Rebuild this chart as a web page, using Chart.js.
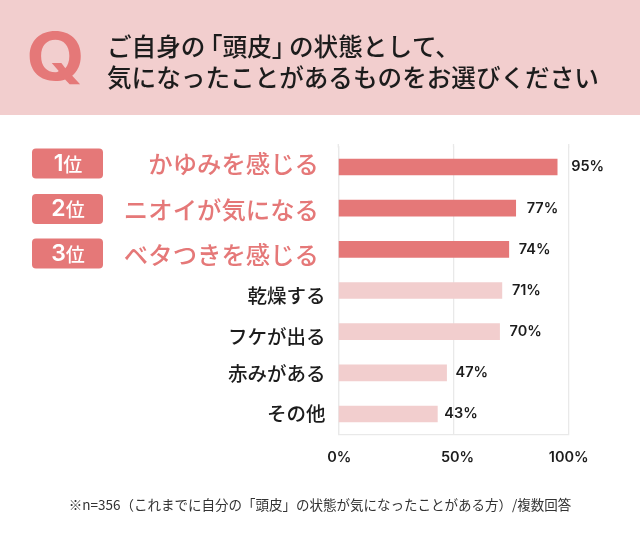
<!DOCTYPE html>
<html lang="ja"><head><meta charset="utf-8">
<style>html,body{margin:0;padding:0;background:#fff}canvas{display:block}</style>
<script src="https://cdn.jsdelivr.net/npm/chart.js@4/dist/chart.umd.min.js"></script>
</head><body><canvas id="c" width="640" height="535"></canvas>
<script>
const categories = ['かゆみを感じる','ニオイが気になる','ベタつきを感じる','乾燥する','フケが出る','赤みがある','その他'];
const values = [95,77,74,71,70,47,43];
const xTicks = [0,50,100];
const titleLines = ['ご自身の「頭皮」の状態として、','気になったことがあるものをお選びください'];
const footnote = '※n=356（これまでに自分の「頭皮」の状態が気になったことがある方）/複数回答';
const ranks = ['1','2','3'];
const rankSuffix = '位';

const DARK='#E57878', LIGHT='#F2CECE', INK='#1c1c1c', GRID='#E9E9E9';
const JP='"Noto Sans CJK JP"';
const NUM='Inter';
const isTop = i => i < ranks.length;
// layout nudges
const tickRight = [319,319,319,325.5,325.5,325.5,325.5];
const tickDy = [-3,2,5,5,5,1,0];
const xTickDx = [1,4,0];
const valueGap = [14,11,10,10,10,9,7];
const badgeY = [148.5,194,238.5];

// draws a line with the corner brackets set tighter than a full em, as in the reference
function tightLine(ctx,text,x,y){
  const size=parseFloat(ctx.font.match(/([\d.]+)px/)[1]);
  const trim=size*0.3;
  text.split(/([「」])/).filter(Boolean).forEach(part=>{
    if(part==='「'){ctx.fillText(part,x-trim,y);x+=size-trim;}
    else if(part==='」'){ctx.fillText(part,x,y);x+=size-trim;}
    else{ctx.fillText(part,x,y);x+=ctx.measureText(part).width;}
  });
}

const decor = {
  id:'decor',
  beforeDraw(chart){
    const {ctx}=chart;
    ctx.save();
    ctx.fillStyle='#fff';ctx.fillRect(0,0,640,535);
    ctx.fillStyle=LIGHT;ctx.fillRect(0,0,640,115);
    ctx.save();
    ctx.translate(55.5,60);ctx.scale(1.14,1);
    ctx.fillStyle=DARK;ctx.font='700 66px '+NUM;ctx.textAlign='center';ctx.textBaseline='middle';
    ctx.fillText('Q',0,0);
    ctx.restore();
    ctx.textBaseline='middle';
    ctx.fillStyle=INK;ctx.font='500 24.6px '+JP;ctx.textAlign='left';
    titleLines.forEach((t,i)=>tightLine(ctx,t,107,47+i*31));
    ctx.fillStyle='#333';ctx.font='400 13.5px '+JP;ctx.textAlign='center';
    ctx.fillText(footnote,320,505);
    ranks.forEach((r,i)=>{
      ctx.fillStyle=DARK;ctx.beginPath();ctx.roundRect(32,badgeY[i],71,30,4);ctx.fill();
      ctx.fillStyle='#fff';ctx.textAlign='left';
      ctx.font='600 23px '+NUM;const w=ctx.measureText(r).width;
      ctx.font='500 19px '+JP;const w2=ctx.measureText(rankSuffix).width;
      const x0=68-(w+w2)/2;
      ctx.font='600 23px '+NUM;ctx.fillText(r,x0,badgeY[i]+15.5);
      ctx.font='500 19px '+JP;ctx.fillText(rankSuffix,x0+w,badgeY[i]+16);
    });
    // grid runs slightly above the first category band
    const x=chart.scales.x;
    ctx.strokeStyle=GRID;ctx.lineWidth=1.3;
    xTicks.forEach(v=>{const p=x.getPixelForValue(v);ctx.beginPath();ctx.moveTo(p,144);ctx.lineTo(p,chart.chartArea.top+1);ctx.stroke();});
    ctx.restore();
    // place tick labels
    const yItems=chart.scales.y.getLabelItems(chart.chartArea);
    if(!yItems.$moved){
      yItems.forEach((it,i)=>{it.options.translation=[tickRight[i],it.options.translation[1]+tickDy[i]];});
      yItems.$moved=true;
    }
    const xItems=x.getLabelItems(chart.chartArea);
    if(!xItems.$moved){
      xItems.forEach((it,i)=>{it.options.translation=[it.options.translation[0]+xTickDx[i],it.options.translation[1]];});
      xItems.$moved=true;
    }
  },
  afterDatasetsDraw(chart){
    const {ctx}=chart;const meta=chart.getDatasetMeta(0);
    ctx.save();ctx.fillStyle=INK;ctx.font='600 14.5px '+NUM;ctx.textAlign='left';ctx.textBaseline='middle';
    meta.data.forEach((b,i)=>ctx.fillText(values[i]+'%',b.x+valueGap[i],b.y));
    ctx.restore();
  }
};

new Chart(document.getElementById('c'),{
  type:'bar',
  data:{labels:categories,datasets:[{data:values,backgroundColor:values.map((_,i)=>isTop(i)?DARK:LIGHT),barThickness:16,borderWidth:0}]},
  plugins:[decor],
  options:{
    indexAxis:'y',responsive:false,animation:false,devicePixelRatio:1,
    layout:{padding:{left:0,right:71.3,top:146.4,bottom:0}},
    plugins:{legend:{display:false},tooltip:{enabled:false}},
    scales:{
      x:{min:0,max:100,afterBuildTicks(s){s.ticks=xTicks.map(v=>({value:v}));},
        afterFit(s){s.height=100.4;},
        grid:{color:GRID,lineWidth:1.3,drawTicks:false},border:{color:GRID,width:1.3},
        ticks:{padding:14,color:INK,maxRotation:0,font:{family:NUM,size:14.5,weight:'600'},callback:v=>v+'%'}},
      y:{afterFit(s){s.width=338.3;},
        grid:{display:false},border:{color:GRID,width:1.3},
        ticks:{autoSkip:false,padding:0,
          color:c=>isTop(c.index)?DARK:INK,
          font:c=>isTop(c.index)?{family:JP,size:24.4,weight:'500'}:{family:JP,size:19.5,weight:'500'}}}
    }
  }
});
</script></body></html>
